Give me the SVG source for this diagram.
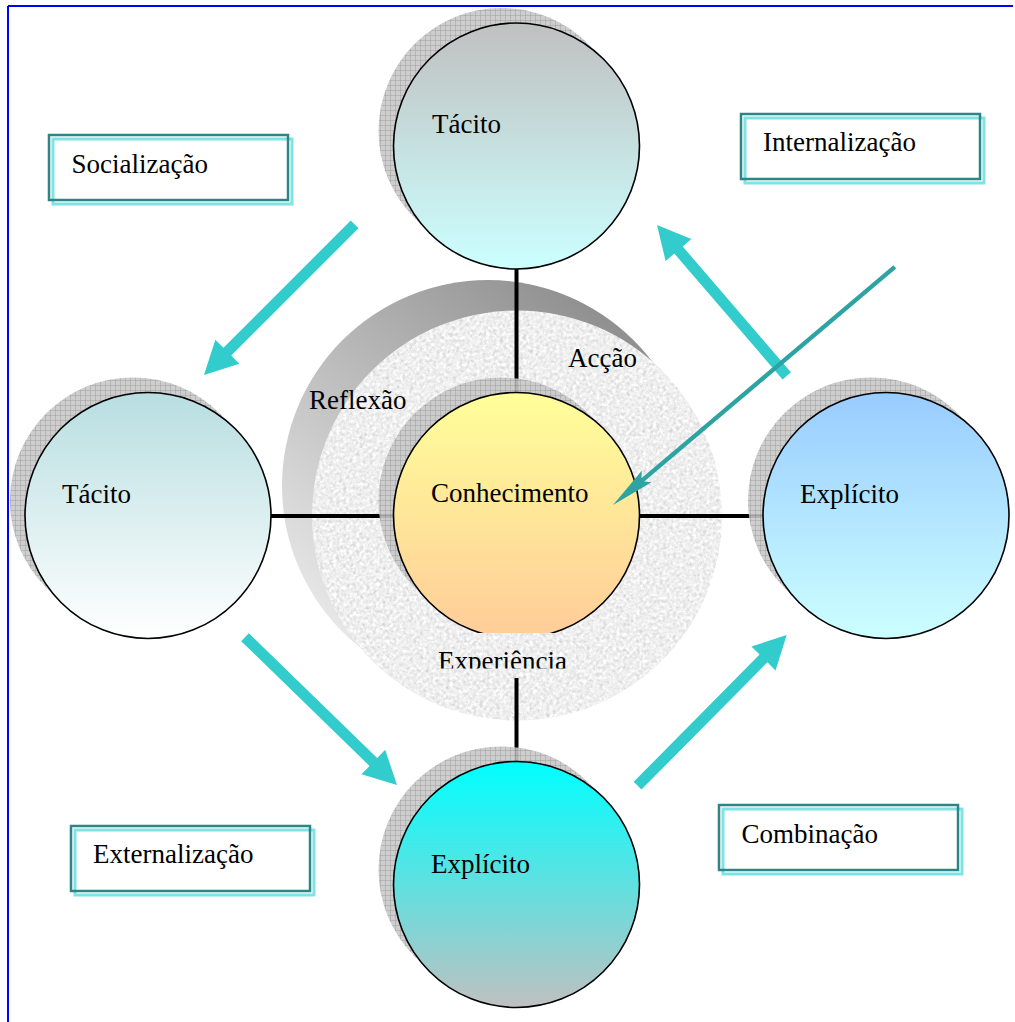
<svg xmlns="http://www.w3.org/2000/svg" width="1015" height="1022" viewBox="0 0 1015 1022">
<style>
  .lbl{font-family:"Liberation Serif","Times New Roman",serif;font-size:27px;fill:#000;}
  .node{stroke:#000;stroke-width:1.6;}
  .shadow{fill:url(#hatch);opacity:0.9;}
  .conn{stroke:#000;stroke-width:4;fill:none;}
  .flow{fill:#33cccc;}
  .dart{fill:#2ea3a3;}
  .boxDark{fill:none;stroke:#2e8585;stroke-width:2.5;}
  .boxLight{fill:#fff;stroke:#7fe3e3;stroke-width:3;}
</style>
<defs>
  <pattern id="hatch" width="5" height="5" patternUnits="userSpaceOnUse">
    <rect width="5" height="5" fill="#c8c8c8"/>
    <path d="M0 0.3H5M0.3 0V5" stroke="#929292" stroke-width="0.6"/>
  </pattern>
  <filter id="granite" x="0" y="0" width="1" height="1" color-interpolation-filters="sRGB">
    <feTurbulence type="fractalNoise" baseFrequency="0.3" numOctaves="3" seed="7" result="n"/>
    <feColorMatrix in="n" type="matrix" values="0.15 0.15 0.15 0 0.71  0.15 0.15 0.15 0 0.71  0.15 0.15 0.15 0 0.71  0 0 0 0 1" result="g"/>
    <feComposite in="g" in2="SourceGraphic" operator="in"/>
  </filter>
  <linearGradient id="ringShadow" x1="0.75" y1="0" x2="0.05" y2="0.85">
    <stop offset="0" stop-color="#8c8c8c"/>
    <stop offset="1" stop-color="#ececec"/>
  </linearGradient>
  <linearGradient id="gTop" x1="0" y1="0" x2="0" y2="1">
    <stop offset="0" stop-color="#c0c0c0"/>
    <stop offset="1" stop-color="#ccffff"/>
  </linearGradient>
  <linearGradient id="gLeft" x1="0" y1="0" x2="0" y2="1">
    <stop offset="0" stop-color="#b8dee1"/>
    <stop offset="1" stop-color="#ffffff"/>
  </linearGradient>
  <linearGradient id="gRight" x1="0" y1="0" x2="0" y2="1">
    <stop offset="0" stop-color="#99ccff"/>
    <stop offset="1" stop-color="#ccffff"/>
  </linearGradient>
  <linearGradient id="gBottom" x1="0" y1="0" x2="0" y2="1">
    <stop offset="0" stop-color="#00ffff"/>
    <stop offset="1" stop-color="#c0c0c0"/>
  </linearGradient>
  <linearGradient id="gCenter" x1="0" y1="0" x2="0" y2="1">
    <stop offset="0" stop-color="#ffff99"/>
    <stop offset="1" stop-color="#ffcc99"/>
  </linearGradient>
  <clipPath id="expClip"><rect x="418" y="633" width="218" height="35.5"/></clipPath>
</defs>

<rect width="1015" height="1022" fill="#fff"/>
<path d="M8 6H1013M8 6V1022" stroke="#0000ff" stroke-width="2" fill="none"/>

<g id="ring">
  <circle cx="488" cy="486" r="206" fill="url(#ringShadow)"/>
  <circle cx="517" cy="515.5" r="205" fill="#e6e6e6" filter="url(#granite)"/>
  <text class="lbl" x="309" y="409">Reflexão</text>
  <text class="lbl" x="568" y="367">Acção</text>
</g>

<g id="connectors">
  <line class="conn" x1="516.5" y1="269" x2="516.5" y2="393"/>
  <line class="conn" x1="271" y1="516" x2="393" y2="516"/>
  <line class="conn" x1="640" y1="516" x2="763" y2="516"/>
  <line class="conn" x1="516.5" y1="640" x2="516.5" y2="762"/>
</g>

<g id="node-tacito-top">
  <circle class="shadow" cx="501.5" cy="131" r="123"/>
  <circle class="node" cx="516.5" cy="146" r="123" fill="url(#gTop)"/>
  <text class="lbl" x="432" y="133">Tácito</text>
</g>

<g id="node-tacito-left">
  <circle class="shadow" cx="133" cy="500.5" r="123"/>
  <circle class="node" cx="148" cy="515.5" r="123" fill="url(#gLeft)"/>
  <text class="lbl" x="62" y="503">Tácito</text>
</g>

<g id="node-explicito-right">
  <circle class="shadow" cx="871" cy="500.5" r="123"/>
  <circle class="node" cx="886" cy="515.5" r="123" fill="url(#gRight)"/>
  <text class="lbl" x="800" y="503">Explícito</text>
</g>

<g id="node-explicito-bottom">
  <circle class="shadow" cx="501.5" cy="869.5" r="123"/>
  <circle class="node" cx="516.5" cy="884.5" r="123" fill="url(#gBottom)"/>
  <text class="lbl" x="431" y="872.5">Explícito</text>
</g>

<g id="node-conhecimento">
  <circle class="shadow" cx="501.5" cy="500.5" r="123"/>
  <circle class="node" cx="516.5" cy="515.5" r="123" fill="url(#gCenter)"/>
  <text class="lbl" x="431" y="502">Conhecimento</text>
</g>

<g id="label-experiencia">
  <rect x="418" y="633" width="218" height="45" fill="#e8e8e8" filter="url(#granite)"/>
  <text class="lbl" x="438" y="670" clip-path="url(#expClip)">Experiência</text>
</g>

<g id="box-socializacao">
  <rect class="boxLight" x="53" y="139" width="239" height="65"/>
  <rect class="boxDark" x="49" y="135" width="239" height="65"/>
  <text class="lbl" x="71.5" y="173">Socialização</text>
</g>
<g id="box-internalizacao">
  <rect class="boxLight" x="745" y="118" width="239" height="65"/>
  <rect class="boxDark" x="741" y="114" width="239" height="65"/>
  <text class="lbl" x="763" y="151">Internalização</text>
</g>
<g id="box-externalizacao">
  <rect class="boxLight" x="75" y="830" width="239" height="65"/>
  <rect class="boxDark" x="71" y="826" width="239" height="65"/>
  <text class="lbl" x="93" y="863">Externalização</text>
</g>
<g id="box-combinacao">
  <rect class="boxLight" x="723" y="809" width="239" height="65"/>
  <rect class="boxDark" x="719" y="805" width="239" height="65"/>
  <text class="lbl" x="741.5" y="842.5">Combinação</text>
</g>

<g id="flows">
  <polygon class="flow" transform="translate(204,375) rotate(135)" points="-213,-5.5 -33,-5.5 -33,-17 0,0 -33,17 -33,5.5 -213,5.5"/>
  <polygon class="flow" transform="translate(657,225) rotate(-130.7)" points="-199,-5.5 -33,-5.5 -33,-17 0,0 -33,17 -33,5.5 -199,5.5"/>
  <polygon class="flow" transform="translate(397,785) rotate(44.2)" points="-212,-5.5 -33,-5.5 -33,-17 0,0 -33,17 -33,5.5 -212,5.5"/>
  <polygon class="flow" transform="translate(786.7,635) rotate(-45.3)" points="-212,-5.5 -33,-5.5 -33,-17 0,0 -33,17 -33,5.5 -212,5.5"/>
  <polygon class="dart" transform="translate(613,505) rotate(139.8)" points="0,0 -44,-7.5 -39,-2.2 -369,-2.2 -369,2.2 -39,2.2 -44,7.5"/>
</g>
</svg>
